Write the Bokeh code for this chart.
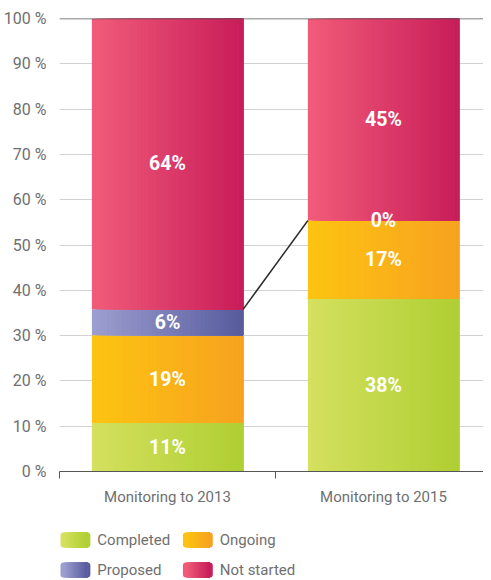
import numpy as np
from bokeh.plotting import figure
from bokeh.models import (Range1d, FixedTicker, PrintfTickFormatter, Span,
                          ColumnDataSource)
from bokeh.layouts import column
from bokeh.core.properties import value
from bokeh.embed import file_html
from bokeh.resources import INLINE

# ---------------- data ----------------
categories = ["Monitoring to 2013", "Monitoring to 2015"]
series_names = ["Completed", "Ongoing", "Proposed", "Not started"]
completed = [10.7, 38.1]
ongoing = [19.4, 17.3]
proposed = [5.7, 0.0]
not_started = [64.2, 44.6]
y_ticks = [0, 10, 20, 30, 40, 50, 60, 70, 80, 90, 100]

series_values = [completed, ongoing, proposed, not_started]
grad_colors = [("#d4e05e", "#afcf33"),
               ("#fdc312", "#f7a31f"),
               ("#9c9ecf", "#585c9d"),
               ("#f15b79", "#c81d5a")]

FONT = "Roboto"
TXT = "#6f6f6f"


def hex2rgb(h):
    h = h.lstrip("#")
    return np.array([int(h[i:i + 2], 16) for i in (0, 2, 4)], dtype=float)


def interp(c0, c1, t):
    a, b = hex2rgb(c0), hex2rgb(c1)
    c = a + (b - a) * t
    return "#%02x%02x%02x" % tuple(int(round(v)) for v in c)


NSTRIP = 40
bar_w = 0.70
xc = [i + 0.5 for i in range(len(categories))]

W = 483
LB = 57
p = figure(width=W, height=515, x_range=Range1d(0, (W - LB) / 217),
           y_range=Range1d(0, 100), output_backend="svg",
           toolbar_location=None, min_border_left=LB, min_border_right=0,
           min_border_top=18, min_border_bottom=44)
p.outline_line_color = None
p.background_fill_color = "white"
p.border_fill_color = "white"

# grid
p.xgrid.visible = False
p.ygrid.ticker = FixedTicker(ticks=y_ticks)
p.ygrid.grid_line_color = "#d2d2d2"
p.ygrid.grid_line_width = 1.2

# gradient bars
L, R, B, T, C = [], [], [], [], []
lab_x, lab_y, lab_t = [], [], []
cum = [0.0] * len(categories)
tops = []
for s, vals in enumerate(series_values):
    c0, c1 = grad_colors[s]
    for i, v in enumerate(vals):
        left = xc[i] - bar_w / 2
        right = xc[i] + bar_w / 2
        for k in range(NSTRIP):
            L.append(left + k * bar_w / NSTRIP)
            R.append(right)
            B.append(cum[i])
            T.append(cum[i] + v)
            C.append(interp(c0, c1, k / (NSTRIP - 1)))
        lab_x.append(xc[i])
        lab_y.append(cum[i] + v / 2)
        lab_t.append("%d%%" % int(round(v)))
    cum = [cum[i] + vals[i] for i in range(len(categories))]
    tops.append(list(cum))

src = ColumnDataSource(dict(left=L, right=R, bottom=B, top=T, color=C))
p.quad(left="left", right="right", bottom="bottom", top="top",
       fill_color="color", line_color=None, source=src)

# connector line between top of "Proposed" in bar 1 and bar 2
p.line(x=[xc[0] + bar_w / 2, xc[1] - bar_w / 2],
       y=[tops[2][0], tops[2][1]], line_color="#2b2b2b", line_width=1.5)

p.text(x=lab_x, y=lab_y, text=lab_t, text_color="white",
       text_font=value(FONT), text_font_style="bold",
       text_font_size="19.5px", text_align="center", text_baseline="middle")

p.add_layout(Span(location=100, dimension="width", line_color="#555555",
                  line_width=1.5))

# y axis
p.yaxis.ticker = FixedTicker(ticks=y_ticks)
p.yaxis.formatter = PrintfTickFormatter(format="%d %%")
p.yaxis.axis_line_color = None
p.yaxis.major_tick_line_color = None
p.yaxis.minor_tick_line_color = None
p.yaxis.major_tick_out = 0
p.yaxis.major_label_standoff = 13
p.yaxis.major_label_text_font = FONT
p.yaxis.major_label_text_font_size = "16px"
p.yaxis.major_label_text_color = TXT

# x axis
p.xaxis.ticker = FixedTicker(ticks=xc, minor_ticks=[0, 1, 2])
p.xaxis.major_label_overrides = {xc[i]: categories[i] for i in range(len(categories))}
p.xaxis.axis_line_color = "#555555"
p.xaxis.axis_line_width = 1.2
p.xaxis.major_tick_line_color = None
p.xaxis.major_tick_out = 7
p.xaxis.minor_tick_line_color = "#555555"
p.xaxis.minor_tick_out = 7
p.xaxis.minor_tick_in = 0
p.xaxis.major_label_standoff = 9
p.xaxis.major_label_text_font = FONT
p.xaxis.major_label_text_font_size = "15px"
p.xaxis.major_label_text_color = TXT

# ---------------- legend figure ----------------
# coordinates of this figure are pixels relative to the figure's left edge
LH = 65
lg = figure(width=W, height=LH, x_range=Range1d(LB, W),
            y_range=Range1d(LH, 0), output_backend="svg",
            toolbar_location=None, x_axis_type=None, y_axis_type=None,
            min_border_left=LB, min_border_right=0, min_border_top=0,
            min_border_bottom=0)
lg.outline_line_color = None
lg.xgrid.visible = False
lg.ygrid.visible = False

sw_pos = [(58, 17), (181, 17), (58, 47), (181, 47)]
sw_w, sw_h = 30, 15
for s, name in enumerate(series_names):
    x0, y0 = sw_pos[s]
    c0, c1 = grad_colors[s]
    lg.quad(left=[x0 + sw_w - 8], right=[x0 + sw_w], top=[y0], bottom=[y0 + sw_h],
            fill_color=c1, line_color=None, border_radius=3)
    lg.quad(left=[x0], right=[x0 + 8], top=[y0], bottom=[y0 + sw_h],
            fill_color=c0, line_color=None, border_radius=3)
    n = 20
    ls = [x0 + 3 + k * (sw_w - 6) / n for k in range(n)]
    lg.quad(left=ls, right=[x0 + sw_w - 3] * n, top=[y0] * n,
            bottom=[y0 + sw_h] * n,
            fill_color=[interp(c0, c1, k / (n - 1)) for k in range(n)],
            line_color=None)
    lg.text(x=[x0 + sw_w + 7], y=[y0 + sw_h / 2], text=[name],
            text_font=value(FONT), text_font_size="15px", text_color=TXT,
            text_align="left", text_baseline="middle")

layout = column(p, lg, spacing=0)
open("out.html", "w").write(file_html(layout, INLINE))
